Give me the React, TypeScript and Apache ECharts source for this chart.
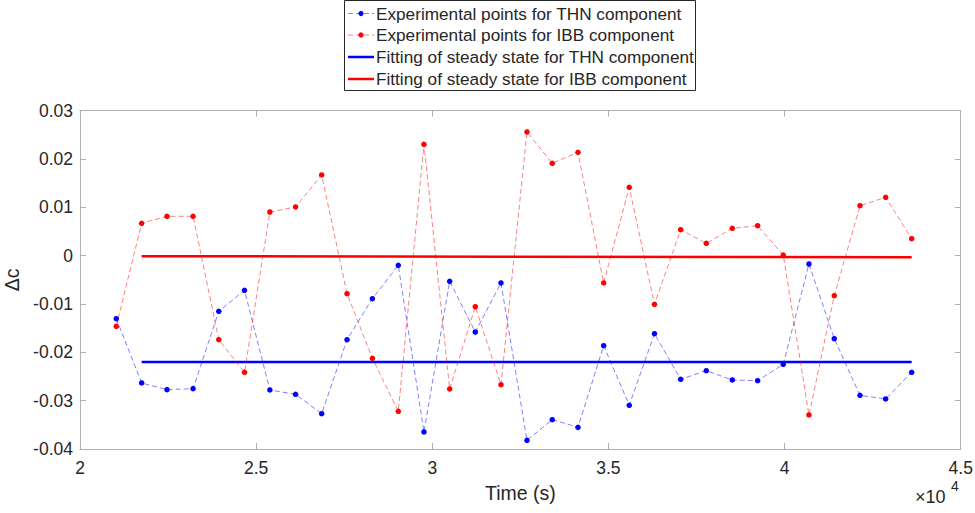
import React, { useEffect, useRef } from "react";
import * as echarts from "echarts";

const times = [
  21030, 21750, 22470, 23210, 23940, 24670, 25390, 26120, 26860, 27580,
  28300, 29035, 29764, 30494, 31221, 31950, 32688, 33406, 34136, 34865,
  35592, 36307, 37051, 37778, 38516, 39236, 39963, 40693, 41411, 42141,
  42870, 43608,
];
const thn = [
  -0.01303, -0.02634, -0.02772, -0.02751, -0.01151, -0.00717, -0.02779, -0.02868, -0.03269, -0.01738,
  -0.0089, -0.00199, -0.03648, -0.0053, -0.01579, -0.00565, -0.0382, -0.03393, -0.03552, -0.01862,
  -0.03096, -0.01614, -0.02558, -0.02379, -0.02572, -0.02586, -0.02248, -0.00172, -0.01717, -0.02889,
  -0.02965, -0.02413,
];
const ibb = [
  -0.01461, 0.0067, 0.00815, 0.00815, -0.01738, -0.02413, 0.00904, 0.01008, 0.0167, -0.00786,
  -0.02124, -0.0322, 0.02305, -0.02758, -0.01055, -0.02669, 0.0256, 0.01912, 0.0214, -0.00565,
  0.01415, -0.01006, 0.00538, 0.00256, 0.00566, 0.00621, 0.00014, -0.03296, -0.00828, 0.01035,
  0.01208, 0.00352,
];
const fitTimes = [21750, 43608];
const fitThn = [-0.022, -0.022];
const fitIbb = [-0.0001, -0.0003];
const legendLabels = [
  "Experimental points for THN component",
  "Experimental points for IBB component",
  "Fitting of steady state for THN component",
  "Fitting of steady state for IBB component",
];

const FONT = "'Liberation Sans', Arial, Helvetica, sans-serif";
const TXT = "#262626";
const AX = "#b0b0b0";

export default function App() {
  const ref = useRef<HTMLDivElement>(null);
  useEffect(() => {
    document.body.style.margin = "0";
    const chart = echarts.init(ref.current!, null, { renderer: "svg" });
    const pair = (xs: number[], ys: number[]) => xs.map((x, i) => [x, ys[i]]);
    const legendRows = [13.5, 35, 57, 79];
    const legendItems: any[] = [
      {
        type: "rect",
        shape: { x: 344.5, y: 0.5, width: 351, height: 90 },
        style: { fill: "#fff", stroke: "#262626", lineWidth: 1 },
      },
    ];
    legendRows.forEach((y, i) => {
      const color = i % 2 === 0 ? "#0000ff" : "#ff0000";
      const light = i % 2 === 0 ? "rgba(0,0,255,0.5)" : "rgba(255,0,0,0.5)";
      if (i < 2) {
        legendItems.push({
          type: "line",
          shape: { x1: 348, y1: y, x2: 374, y2: y },
          style: { stroke: light, lineWidth: 1, lineDash: [5, 3] },
        });
        legendItems.push({
          type: "circle",
          shape: { cx: 361, cy: y, r: 2.6 },
          style: { fill: color },
        });
      } else {
        legendItems.push({
          type: "line",
          shape: { x1: 348, y1: y, x2: 374, y2: y },
          style: { stroke: color, lineWidth: 2.5 },
        });
      }
      legendItems.push({
        type: "text",
        x: 376,
        y: y,
        style: {
          text: legendLabels[i],
          font: `17.2px ${FONT}`,
          fill: TXT,
          verticalAlign: "middle",
        },
      });
    });
    const baseLine = { onZero: false, lineStyle: { color: AX } };
    chart.setOption({
      animation: false,
      backgroundColor: "#fff",
      grid: {
        left: 80,
        right: 14.3,
        top: 110.7,
        bottom: 64,
        containLabel: false,
        outerBoundsMode: "none",
      },
      xAxis: [
        {
          type: "value",
          min: 20000,
          max: 45000,
          interval: 5000,
          name: "Time (s)",
          nameLocation: "middle",
          nameGap: 34,
          nameTextStyle: { fontSize: 19.5, color: TXT, fontFamily: FONT },
          axisLine: { show: true, ...baseLine },
          axisTick: { inside: true, length: 6, lineStyle: { color: AX } },
          axisLabel: {
            fontSize: 17.5,
            color: TXT,
            fontFamily: FONT,
            margin: 10,
            formatter: (v: number) => String(Math.round(v / 1000) / 10),
          },
          splitLine: { show: false },
        },
        {
          type: "value",
          position: "top",
          min: 20000,
          max: 45000,
          interval: 5000,
          axisLine: { show: true, ...baseLine },
          axisTick: { inside: true, length: 6, lineStyle: { color: AX } },
          axisLabel: { show: false },
          splitLine: { show: false },
        },
      ],
      yAxis: [
        {
          type: "value",
          min: -0.04,
          max: 0.03,
          interval: 0.01,
          name: "Δc",
          nameLocation: "middle",
          nameGap: 56,
          nameRotate: 90,
          nameTextStyle: { fontSize: 19.5, color: TXT, fontFamily: FONT },
          axisLine: { show: true, ...baseLine },
          axisTick: { show: true, inside: true, length: 6, lineStyle: { color: AX } },
          axisLabel: {
            fontSize: 17.5,
            color: TXT,
            fontFamily: FONT,
            margin: 7,
            formatter: (v: number) => {
              const r = Math.round(v * 100) / 100;
              return r === 0 ? "0" : r.toFixed(2);
            },
          },
          splitLine: { show: false },
        },
        {
          type: "value",
          position: "right",
          min: -0.04,
          max: 0.03,
          interval: 0.01,
          axisLine: { show: true, ...baseLine },
          axisTick: { show: true, inside: true, length: 6, lineStyle: { color: AX } },
          axisLabel: { show: false },
          splitLine: { show: false },
        },
      ],
      graphic: [
        ...legendItems,
        {
          type: "text",
          x: 915,
          y: 488,
          style: {
            text: "×10",
            font: `18px ${FONT}`,
            fill: TXT,
          },
        },
        {
          type: "text",
          x: 951,
          y: 479,
          style: {
            text: "4",
            font: `14px ${FONT}`,
            fill: TXT,
          },
        },
      ],
      series: [
        {
          name: legendLabels[0],
          type: "line",
          data: pair(times, thn),
          symbol: "circle",
          symbolSize: 5.5,
          itemStyle: { color: "#0000ff" },
          lineStyle: { color: "rgba(0,0,255,0.5)", width: 1, type: [5, 3] },
          z: 3,
        },
        {
          name: legendLabels[1],
          type: "line",
          data: pair(times, ibb),
          symbol: "circle",
          symbolSize: 5.5,
          itemStyle: { color: "#ff0000" },
          lineStyle: { color: "rgba(255,0,0,0.5)", width: 1, type: [5, 3] },
          z: 3,
        },
        {
          name: legendLabels[2],
          type: "line",
          data: pair(fitTimes, fitThn),
          showSymbol: false,
          symbol: "none",
          lineStyle: { color: "#0000ff", width: 2.5 },
          z: 2,
        },
        {
          name: legendLabels[3],
          type: "line",
          data: pair(fitTimes, fitIbb),
          showSymbol: false,
          symbol: "none",
          lineStyle: { color: "#ff0000", width: 2.5 },
          z: 2,
        },
      ],
    });
    return () => chart.dispose();
  }, []);
  return (
    <div
      ref={ref}
      style={{ width: 975, height: 513, position: "fixed", left: 0, top: 0 }}
    />
  );
}
